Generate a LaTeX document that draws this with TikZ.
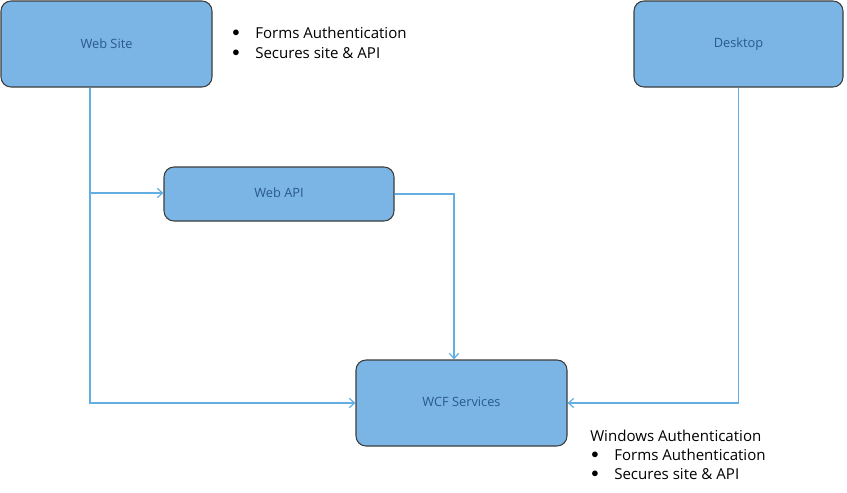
\documentclass[tikz,border=0pt]{standalone}
\usepackage{fontspec}
\setmainfont{Open Sans}
\usetikzlibrary{arrows.meta}
\definecolor{boxfill}{RGB}{122,181,229}
\definecolor{boxline}{RGB}{60,60,60}
\definecolor{boxtext}{RGB}{40,90,140}
\definecolor{conn}{RGB}{100,175,225}
\begin{document}
\begin{tikzpicture}[x=0.75pt,y=-0.75pt,
  box/.style={draw=boxline,line width=0.8pt,fill=boxfill,rounded corners=7.5pt,
    text=boxtext,font=\fontsize{9.6}{11}\selectfont,inner sep=0pt},
  lbl/.style={text height=7pt,text depth=2pt},
  conn/.style={draw=conn,line width=0.9pt,-{Straight Barb[length=4pt,width=7pt]}},
  plain/.style={draw=conn,line width=0.9pt},
  txt/.style={anchor=west,inner sep=0pt,font=\fontsize{11.3}{13}\selectfont},
  bul/.style={anchor=center,inner sep=0pt,font=\fontsize{11}{13}\selectfont}]
\useasboundingbox (0,0) rectangle (847,493);
\node[box,minimum width=211*0.75pt,minimum height=86*0.75pt] (web) at (106.5,44) {Web Site};
\node[box,minimum width=209*0.75pt,minimum height=86*0.75pt] (desk) at (738.5,44) {\vphantom{Wp}Desktop};
\node[box,minimum width=230*0.75pt,minimum height=54*0.75pt] (api) at (279,194) {\vphantom{Wp}Web API};
\node[box,minimum width=211*0.75pt,minimum height=86*0.75pt] (wcf) at (461.5,403) {\vphantom{Wp}WCF Services};
\coordinate (j1) at (90,193);
\draw[plain] (web.south -| j1) -- (j1);
\draw[conn] (j1) -- (api.west |- j1);
\draw[conn] (j1) |- (wcf.west);
\draw[conn] (api.east) -| ([xshift=-7.5*0.75pt]wcf.north);
\draw[conn] (desk.south) |- (wcf.east);
\node[bul] (b1) at (236,33) {$\bullet$};
\node[txt] (t1) at (255,33) {Forms Authentication};
\node[bul] (b2) at (236,53) {$\bullet$};
\node[txt] (t2) at (255,53) {Secures site \& API};
\node[txt] (t3) at (590,436) {Windows Authentication};
\node[bul] (b3) at (595,455) {$\bullet$};
\node[txt] (t4) at (614,455) {Forms Authentication};
\node[bul] (b4) at (595,474) {$\bullet$};
\node[txt] (t5) at (614,474) {Secures site \& API};
\end{tikzpicture}
\end{document}
